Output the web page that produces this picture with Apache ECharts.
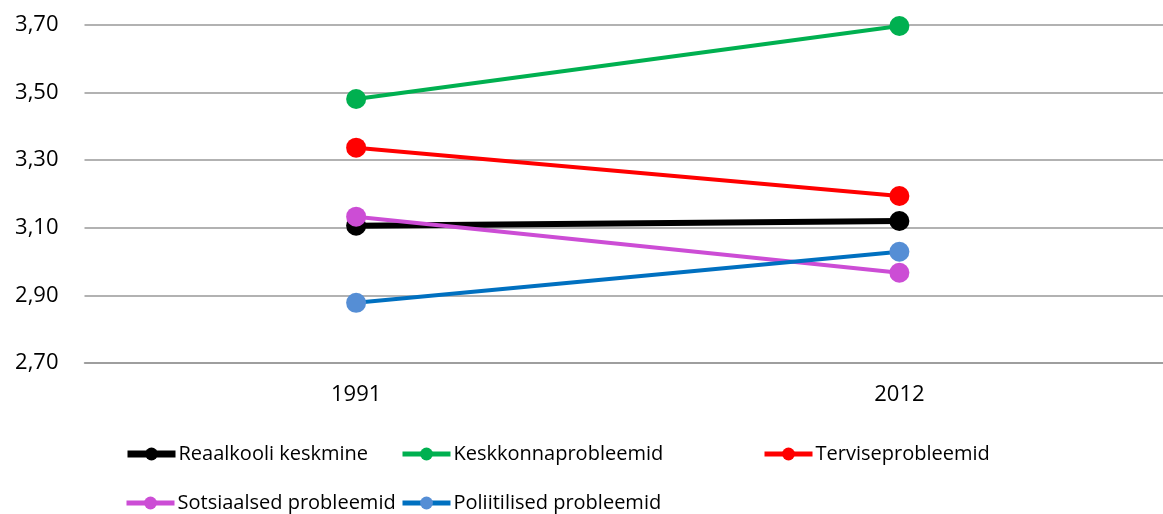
<!DOCTYPE html>
<html lang="et">
<head>
	<meta charset="UTF-8">
	<title>Chart</title>
	<style>
		html, body { margin: 0; padding: 0; background: #fff; overflow: hidden; }
	</style>
</head>
<body>
	<div id="chart" style="width:1171px;height:514px;"></div>
<script src="https://cdn.jsdelivr.net/npm/echarts@6/dist/echarts.min.js"></script>
<script>
	// andmed
	var years = ["1991", "2012"];
	var names = ["Reaalkooli keskmine", "Keskkonnaprobleemid", "Terviseprobleemid", "Sotsiaalsed probleemid", "Poliitilised probleemid"];
	var reaalkool = [3.106, 3.120];
	var keskkond = [3.481, 3.697];
	var tervis = [3.337, 3.194];
	var sotsiaal = [3.133, 2.967];
	var poliitika = [2.878, 3.029];

	var values = [reaalkool, keskkond, tervis, sotsiaal, poliitika];
	var lineColors = ['#000000', '#00b050', '#ff0000', '#cc4dd5', '#0070c0'];
	var dotColors = ['#000000', '#00b050', '#ff0000', '#cc4dd5', '#558ed5'];
	var widths = [6, 4, 4, 4, 4];

	var font = '"Open Sans", "Noto Sans", sans-serif';

	var series = [];
	for (var i = 0; i < names.length; i++) {
		series.push({
			name: names[i],
			type: 'line',
			data: values[i],
			symbol: 'circle',
			symbolSize: 20,
			lineStyle: { color: lineColors[i], width: widths[i] },
			itemStyle: { color: dotColors[i] },
			emphasis: { disabled: true }
		});
	}

	// legend paigutus nagu Excelis
	var legendPos = [[124, 444], [400, 444], [762, 444], [124, 493], [400, 493]];
	var legends = [];
	for (var j = 0; j < names.length; j++) {
		legends.push({
			data: [names[j]],
			left: legendPos[j][0],
			top: legendPos[j][1],
			padding: 0,
			itemWidth: 48,
			itemHeight: 16,
			itemGap: 0,
			lineStyle: { width: widths[j] + 1 },
			textStyle: { fontFamily: font, fontSize: 20, color: '#000', padding: [0, 0, 0, -2] }
		});
	}

	var chart = echarts.init(document.getElementById('chart'));
	chart.setOption({
		animation: false,
		legend: legends,
		grid: { left: 84.5, right: 0, top: 25, bottom: 151, containLabel: false },
		xAxis: {
			type: 'category',
			data: years,
			boundaryGap: true,
			axisLine: { lineStyle: { color: '#989898', width: 1.5 } },
			axisTick: { show: false },
			axisLabel: { fontFamily: font, fontSize: 22, color: '#000', margin: 21 }
		},
		yAxis: {
			type: 'value',
			min: 2.7,
			max: 3.7,
			interval: 0.2,
			axisLine: { show: false },
			axisTick: { show: false },
			splitLine: { lineStyle: { color: '#989898', width: 1.5 } },
			axisLabel: {
				fontFamily: font, fontSize: 22, color: '#000', margin: 26,
				formatter: function (v) { return v.toFixed(2).replace('.', ','); }
			}
		},
		series: series
	});
</script>
</body>
</html>
